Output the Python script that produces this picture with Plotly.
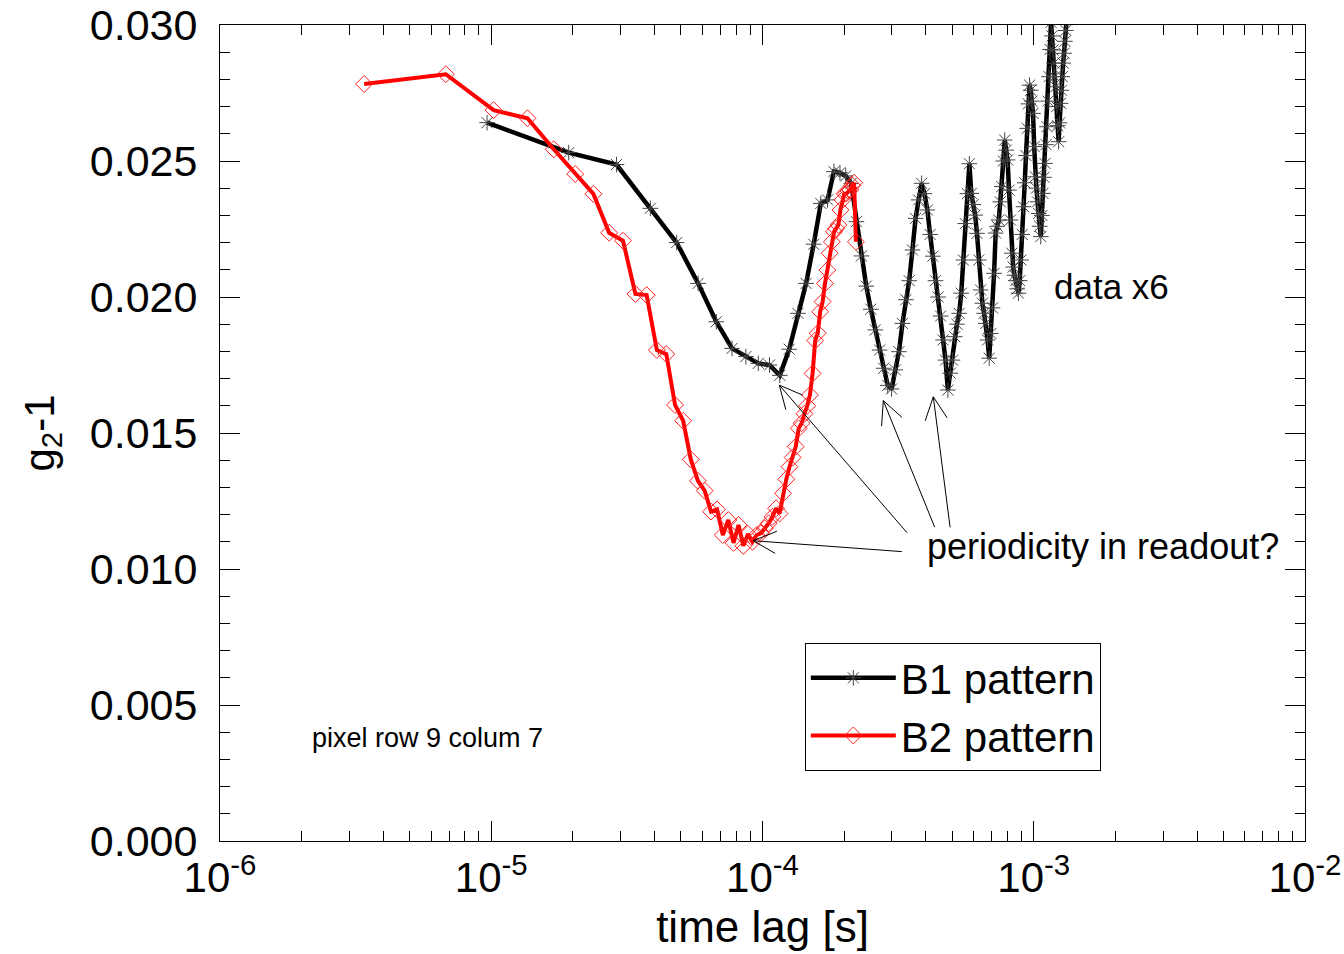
import math
import plotly.graph_objects as go

# ---------------- data ----------------
# B1 pattern: lag times in microseconds and g2-1 values
b1_lag_us = [9.65, 19.30, 28.95, 38.60, 48.25, 57.90, 67.55, 77.20, 86.85, 96.50,
             106.15, 115.80, 125.45, 135.10, 144.75, 154.40, 164.05, 173.70, 183.35, 193.00,
             202.65, 212.30, 221.95, 231.60, 241.25, 250.90, 260.55, 270.20, 279.85, 289.50,
             299.15, 308.80, 318.45, 328.10, 337.75, 347.40, 357.05, 366.70, 376.35, 386.00,
             395.65, 405.30, 414.95, 424.60, 434.25, 443.90, 453.55, 463.20, 472.85, 482.50,
             492.15, 501.80, 511.45, 521.10, 530.75, 540.40, 550.05, 559.70, 569.35, 579.00,
             588.65, 598.30, 607.95, 617.60, 627.25, 636.90, 646.55, 656.20, 665.85, 675.50,
             685.15, 694.80, 704.45, 714.10, 723.75, 733.40, 743.05, 752.70, 762.35, 772.00,
             781.65, 791.30, 800.95, 810.60, 820.25, 829.90, 839.55, 849.20, 858.85, 868.50,
             878.15, 887.80, 897.45, 907.10, 916.75, 926.40, 936.05, 945.70, 955.35, 965.00,
             974.65, 984.30, 993.95, 1003.60, 1013.25, 1022.90, 1032.55, 1042.20, 1051.85, 1061.50,
             1071.15, 1080.80, 1090.45, 1100.10, 1109.75, 1119.40, 1129.05, 1138.70, 1148.35, 1158.00,
             1167.65, 1177.30, 1186.95, 1196.60, 1206.25, 1215.90, 1225.55, 1235.20, 1244.85, 1254.50,
             1264.15, 1273.80, 1283.45, 1293.10, 1302.75, 1312.40, 1322.05]
b1_g2 = [0.02641, 0.02531, 0.02487, 0.02326, 0.02200, 0.02050, 0.01909, 0.01811, 0.01781, 0.01756,
         0.01750, 0.01712, 0.01808, 0.01940, 0.02050, 0.02194, 0.02344, 0.02357, 0.02461, 0.02457,
         0.02445, 0.02418, 0.02277, 0.02151, 0.02040, 0.01955, 0.01879, 0.01805, 0.01738, 0.01675,
         0.01662, 0.01732, 0.01799, 0.01903, 0.01990, 0.02060, 0.02173, 0.02289, 0.02357, 0.02418,
         0.02380, 0.02320, 0.02230, 0.02150, 0.02060, 0.02000, 0.01930, 0.01842, 0.01768, 0.01658,
         0.01720, 0.01768, 0.01854, 0.01900, 0.01940, 0.02014, 0.02136, 0.02270, 0.02380, 0.02490,
         0.02381, 0.02340, 0.02301, 0.02234, 0.02136, 0.02026, 0.01977, 0.01940, 0.01903, 0.01842,
         0.01775, 0.01866, 0.01960, 0.02087, 0.02235, 0.02260, 0.02283, 0.02350, 0.02406, 0.02500,
         0.02577, 0.02540, 0.02504, 0.02393, 0.02283, 0.02161, 0.02110, 0.02080, 0.02060, 0.02030,
         0.02014, 0.02060, 0.02136, 0.02230, 0.02332, 0.02420, 0.02520, 0.02620, 0.02710, 0.02779,
         0.02760, 0.02720, 0.02675, 0.02553, 0.02442, 0.02400, 0.02350, 0.02307, 0.02260, 0.02222,
         0.02300, 0.02381, 0.02440, 0.02491, 0.02560, 0.02626, 0.02720, 0.02810, 0.02910, 0.03010,
         0.02960, 0.02908, 0.02860, 0.02810, 0.02773, 0.02700, 0.02630, 0.02571, 0.02640, 0.02712,
         0.02760, 0.02810, 0.02860, 0.02896, 0.02940, 0.02980, 0.03020]

# B2 pattern
b2_lag_us = [3.4, 6.8, 10.2, 13.6, 17.0, 20.4, 23.8, 27.2, 30.6, 34.0,
             37.4, 40.8, 44.2, 47.6, 51.0, 54.4, 57.8, 61.2, 64.6, 68.0,
             71.4, 74.8, 78.2, 81.6, 85.0, 88.4, 91.8, 95.2, 98.6, 102.0,
             105.4, 108.8, 112.2, 115.6, 119.0, 122.4, 125.8, 129.2, 132.6, 136.0,
             139.4, 142.8, 146.2, 149.6, 153.0, 156.4, 159.8, 163.2, 166.6, 170.0,
             173.4, 176.8, 180.2, 183.6, 187.0, 190.4, 193.8, 197.2, 200.6, 204.0,
             207.4, 210.8, 214.2, 217.6, 221.0]
b2_g2 = [0.02783, 0.02819, 0.02687, 0.02657, 0.02543, 0.02452, 0.02379, 0.02236, 0.02207, 0.02011,
         0.02007, 0.01805, 0.01790, 0.01603, 0.01545, 0.01403, 0.01324, 0.01288, 0.01211, 0.01219,
         0.01125, 0.01180, 0.01096, 0.01162, 0.01085, 0.01129, 0.01100, 0.01125, 0.01131, 0.01150,
         0.01168, 0.01192, 0.01223, 0.01204, 0.01278, 0.01330, 0.01376, 0.01410, 0.01450, 0.01517,
         0.01536, 0.01571, 0.01600, 0.01640, 0.01719, 0.01840, 0.01867, 0.01946, 0.01983, 0.02050,
         0.02099, 0.02161, 0.02203, 0.02240, 0.02252, 0.02265, 0.02320, 0.02357, 0.02380, 0.02381,
         0.02390, 0.02394, 0.02410, 0.02420, 0.02203]

series_names = ["B1 pattern", "B2 pattern"]
x_tick_vals = [1e-6, 1e-5, 1e-4, 1e-3, 1e-2]
x_tick_text = ["10<sup>-6</sup>", "10<sup>-5</sup>", "10<sup>-4</sup>", "10<sup>-3</sup>", "10<sup>-2</sup>"]
y_tick_vals = [0.000, 0.005, 0.010, 0.015, 0.020, 0.025, 0.030]

# ---------------- figure ----------------
FONT = "Liberation Sans, Arial, Helvetica, sans-serif"

fig = go.Figure()
fig.add_trace(go.Scatter(
    x=[v * 1e-6 for v in b1_lag_us], y=b1_g2, name=series_names[0],
    mode="lines+markers",
    line=dict(color="black", width=4.5),
    marker=dict(symbol="asterisk-open", size=13, color="#444444",
                line=dict(color="#444444", width=1)),
    cliponaxis=True,
))
fig.add_trace(go.Scatter(
    x=[v * 1e-6 for v in b2_lag_us], y=b2_g2, name=series_names[1],
    mode="lines+markers",
    line=dict(color="#ff0000", width=4),
    marker=dict(symbol="diamond-open", size=13, color="#ff2020",
                line=dict(color="#ff2020", width=1)),
    cliponaxis=True,
))

minor_x = [m * 10.0 ** e for e in range(-6, -2) for m in range(2, 10)]

fig.update_layout(
    width=1344, height=954, autosize=False,
    margin=dict(l=220, r=39, t=25, b=113, autoexpand=False),
    paper_bgcolor="white", plot_bgcolor="white",
    font=dict(family=FONT, color="black", size=36),
    showlegend=True,
    legend=dict(x=0.539, y=0.2426, xanchor="left", yanchor="top",
                bordercolor="black", borderwidth=1, bgcolor="white",
                font=dict(size=42, family=FONT), itemwidth=85,
                tracegroupgap=0),
    xaxis=dict(
        type="log", range=[-6, -2], automargin=False, ticklabeloverflow="allow",
        tickvals=x_tick_vals, ticktext=x_tick_text,
        ticks="inside", ticklen=20, tickwidth=1, tickcolor="black",
        showline=True, linecolor="black", linewidth=1, mirror="ticks",
        showgrid=False, zeroline=False,
        tickfont=dict(size=42, family=FONT),
        minor=dict(tickvals=minor_x, ticks="inside", ticklen=10, tickwidth=1,
                   tickcolor="black", showgrid=False),
        title=dict(text="time lag [s]", font=dict(size=44, family=FONT), standoff=10),
    ),
    yaxis=dict(
        range=[0, 0.030], tickvals=y_tick_vals, tickformat=".3f", automargin=False,
        ticklabeloverflow="allow",
        ticks="inside", ticklen=20, tickwidth=1, tickcolor="black",
        showline=True, linecolor="black", linewidth=1, mirror="ticks",
        showgrid=False, zeroline=False,
        tickfont=dict(size=43, family=FONT), ticklabelstandoff=13,
        minor=dict(dtick=0.001, ticks="inside", ticklen=10, tickwidth=1,
                   tickcolor="black", showgrid=False),
        title=dict(text="g<sub>2</sub>-1", font=dict(size=42, family=FONT), standoff=22),
    ),
)

# text labels
fig.add_annotation(xref="paper", yref="paper", x=0.7668, y=0.6801,
                   text="data x6", showarrow=False, xanchor="left", yanchor="middle",
                   font=dict(size=35, family=FONT, color="black"))
fig.add_annotation(xref="paper", yref="paper", x=0.6498, y=0.3603,
                   text="periodicity in readout?", showarrow=False, xanchor="left", yanchor="middle",
                   font=dict(size=36, family=FONT, color="black"))
fig.add_annotation(xref="paper", yref="paper", x=0.0829, y=0.1262,
                   text="pixel row 9 colum 7", showarrow=False, xanchor="left", yanchor="middle",
                   font=dict(size=27, family=FONT, color="black"))

# arrows: head position (log10 x, y) and tail offset in pixels; open V heads drawn as two barbs
arrow_heads = [(-4.0339, 0.01104, 150, 11), (-3.9381, 0.01676, 129, 149),
               (-3.5546, 0.01619, 52, 128), (-3.3703, 0.01633, 17, 132)]
BARB_LEN = 27
BARB_ANG = math.radians(26)
for hx, hy, ax, ay in arrow_heads:
    fig.add_annotation(x=hx, y=hy, xref="x", yref="y", text="", showarrow=True,
                       ax=ax, ay=ay, arrowhead=0, arrowwidth=1,
                       arrowcolor="black", standoff=0)
    ang = math.atan2(ay, ax)
    for s in (-1, 1):
        a = ang + s * BARB_ANG
        fig.add_annotation(x=hx, y=hy, xref="x", yref="y", text="", showarrow=True,
                           ax=BARB_LEN * math.cos(a), ay=BARB_LEN * math.sin(a),
                           arrowhead=0, arrowwidth=1, arrowcolor="black", standoff=0)

# remove the browser's default 8px body margin so the figure fills the window exactly
fig.write_html("out.html", config={"displayModeBar": False},
               post_script="document.body.style.margin='0';")
